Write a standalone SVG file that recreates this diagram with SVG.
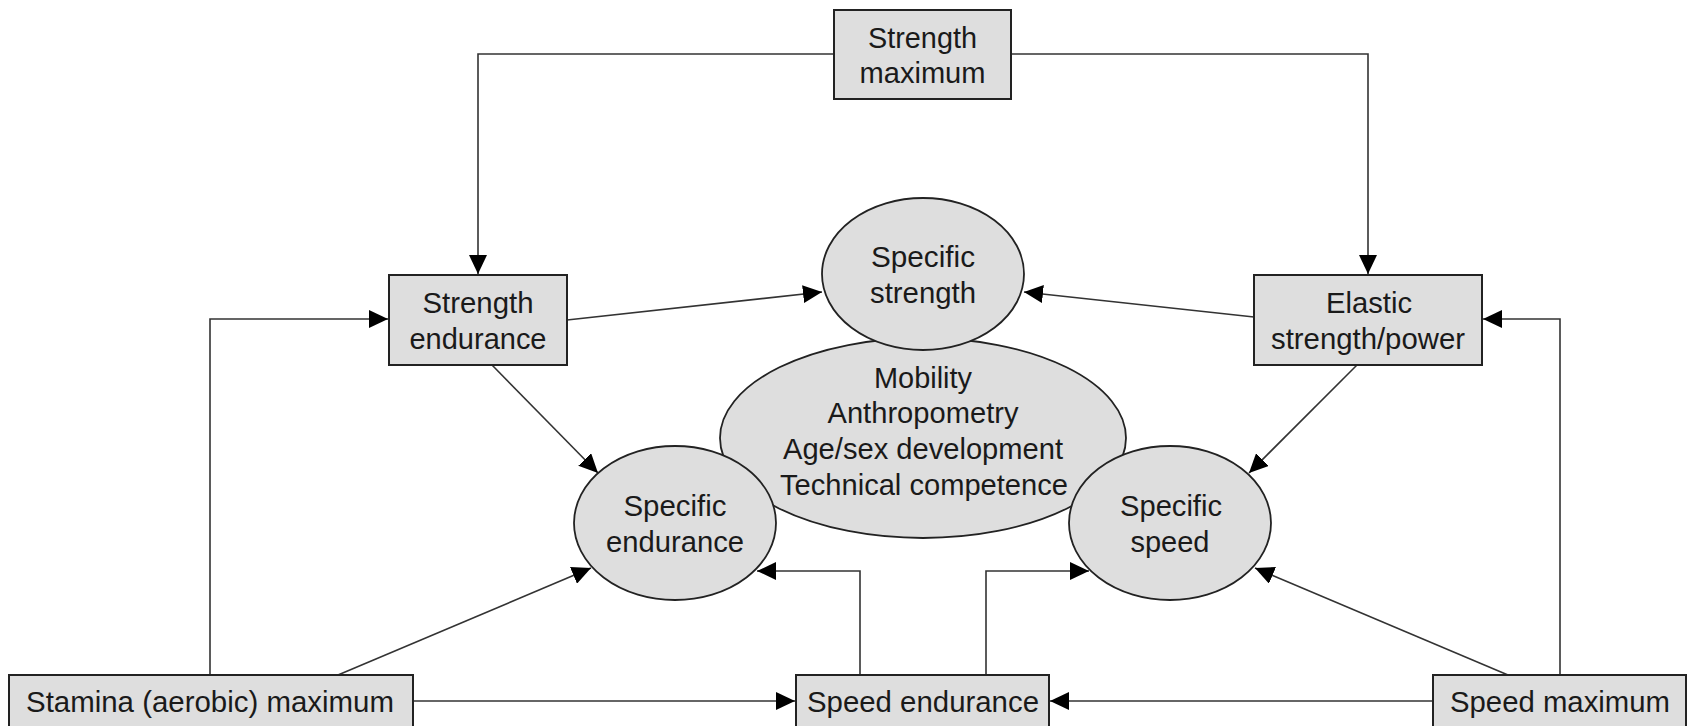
<svg xmlns="http://www.w3.org/2000/svg" width="1691" height="726" viewBox="0 0 1691 726">
  <style>
    .box { fill: #dedede; stroke: #222; stroke-width: 2; }
    .oval { fill: #dedede; stroke: #222; stroke-width: 1.8; }
    .lbl { font-family: "Liberation Sans", Arial, sans-serif; font-size: 29px; fill: #1a1a1a; text-anchor: middle; }
    .wire { fill: none; stroke: #333; stroke-width: 1.6; marker-end: url(#head); }
  </style>
  <defs>
    <marker id="head" markerUnits="userSpaceOnUse" markerWidth="20" markerHeight="18" refX="19" refY="9" orient="auto">
      <path d="M0,0 L19,9 L0,18 z" fill="#000"/>
    </marker>
  </defs>
  <rect width="1691" height="726" fill="#fff"/>

  <!-- connectors -->
  <g id="connectors">
    <path class="wire" d="M834,54 H478 V274"/>
    <path class="wire" d="M1011,54 H1368 V274"/>
    <path class="wire" d="M567,320 L822,292"/>
    <path class="wire" d="M1254,317 L1024,292"/>
    <path class="wire" d="M492,365 L598,473"/>
    <path class="wire" d="M1357,365 L1249,473"/>
    <path class="wire" d="M338,675 L591,568"/>
    <path class="wire" d="M1508,675 L1255,568"/>
    <path class="wire" d="M413,701 H795"/>
    <path class="wire" d="M1433,701 H1050"/>
    <path class="wire" d="M860,675 V571 H757"/>
    <path class="wire" d="M986,675 V571 H1089"/>
    <path class="wire" d="M210,675 V319 H388"/>
    <path class="wire" d="M1560,675 V319 H1483"/>
  </g>

  <!-- central factors -->
  <g id="factors">
    <ellipse class="oval" cx="923" cy="438" rx="203" ry="100"/>
    <text class="lbl" x="923" y="388" textLength="98" lengthAdjust="spacingAndGlyphs">Mobility</text>
    <text class="lbl" x="923" y="423" textLength="191" lengthAdjust="spacingAndGlyphs">Anthropometry</text>
    <text class="lbl" x="923" y="459" textLength="280" lengthAdjust="spacingAndGlyphs">Age/sex development</text>
    <text class="lbl" x="924" y="495" textLength="288" lengthAdjust="spacingAndGlyphs">Technical competence</text>
  </g>

  <g id="specific-strength">
    <ellipse class="oval" cx="923" cy="274" rx="101" ry="76"/>
    <text class="lbl" x="923" y="267" textLength="104" lengthAdjust="spacingAndGlyphs">Specific</text>
    <text class="lbl" x="923" y="303" textLength="106" lengthAdjust="spacingAndGlyphs">strength</text>
  </g>

  <g id="specific-endurance">
    <ellipse class="oval" cx="675" cy="523" rx="101" ry="77"/>
    <text class="lbl" x="675" y="516" textLength="103" lengthAdjust="spacingAndGlyphs">Specific</text>
    <text class="lbl" x="675" y="552" textLength="138" lengthAdjust="spacingAndGlyphs">endurance</text>
  </g>

  <g id="specific-speed">
    <ellipse class="oval" cx="1170" cy="523" rx="101" ry="77"/>
    <text class="lbl" x="1171" y="516" textLength="102" lengthAdjust="spacingAndGlyphs">Specific</text>
    <text class="lbl" x="1170" y="552" textLength="79" lengthAdjust="spacingAndGlyphs">speed</text>
  </g>

  <g id="strength-maximum">
    <rect class="box" x="834" y="10" width="177" height="89"/>
    <text class="lbl" x="922.5" y="48" textLength="109" lengthAdjust="spacingAndGlyphs">Strength</text>
    <text class="lbl" x="922.5" y="83" textLength="126" lengthAdjust="spacingAndGlyphs">maximum</text>
  </g>

  <g id="strength-endurance">
    <rect class="box" x="389" y="275" width="178" height="90"/>
    <text class="lbl" x="478" y="313" textLength="111" lengthAdjust="spacingAndGlyphs">Strength</text>
    <text class="lbl" x="478" y="349" textLength="137" lengthAdjust="spacingAndGlyphs">endurance</text>
  </g>

  <g id="elastic-strength">
    <rect class="box" x="1254" y="275" width="228" height="90"/>
    <text class="lbl" x="1369" y="313" textLength="86" lengthAdjust="spacingAndGlyphs">Elastic</text>
    <text class="lbl" x="1368" y="349" textLength="194" lengthAdjust="spacingAndGlyphs">strength/power</text>
  </g>

  <g id="stamina-maximum">
    <rect class="box" x="9" y="675" width="404" height="52"/>
    <text class="lbl" x="210" y="712" textLength="368" lengthAdjust="spacingAndGlyphs">Stamina (aerobic) maximum</text>
  </g>

  <g id="speed-endurance">
    <rect class="box" x="796" y="675" width="253" height="52"/>
    <text class="lbl" x="923" y="712" textLength="232" lengthAdjust="spacingAndGlyphs">Speed endurance</text>
  </g>

  <g id="speed-maximum">
    <rect class="box" x="1433" y="675" width="253" height="52"/>
    <text class="lbl" x="1560" y="712" textLength="220" lengthAdjust="spacingAndGlyphs">Speed maximum</text>
  </g>
</svg>
